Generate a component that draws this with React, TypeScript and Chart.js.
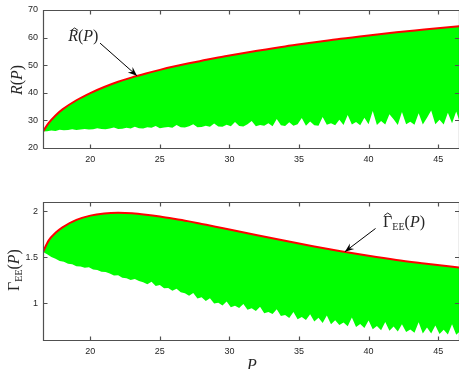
import React, { useEffect, useRef } from "react";
import { Chart, registerables } from "chart.js";
Chart.register(...registerables);

// ---------- data ----------
const P_MIN = 16.6;
const P_MAX = 46.5;
const P_TICKS = [20, 25, 30, 35, 40, 45];

// envelope R^(P)
const P_R_HAT = [16.6, 17.0, 17.5, 18, 19, 20, 21, 22, 23, 24, 25, 26, 27, 28, 29, 30, 32, 34, 36, 38, 40, 42, 44, 46.6];
const R_HAT = [26.0, 29.0, 31.8, 34.0, 37.3, 39.9, 42.1, 44.0, 45.6, 47.0, 48.3, 49.5, 50.6, 51.6, 52.6, 53.5, 55.2, 56.8, 58.2, 59.6, 60.8, 61.9, 62.9, 64.2];

// envelope Gamma^_EE(P)
const P_G_HAT = [16.6, 17.0, 17.5, 18, 19, 20, 21, 22, 23, 24, 25, 26, 27, 28, 29, 30, 32, 34, 36, 38, 40, 42, 44, 46.6];
const G_HAT = [1.557, 1.68, 1.765, 1.825, 1.905, 1.952, 1.975, 1.982, 1.977, 1.962, 1.942, 1.918, 1.892, 1.862, 1.832, 1.8, 1.738, 1.678, 1.62, 1.565, 1.515, 1.47, 1.432, 1.385];

// sampling grid of the scattered realisations (lower edge of the green band)
const LOW_P_START = 16.6;
const LOW_P_STEP = 0.3;
const R_LOW = [
  26.0, 26.1, 26.3, 26.2, 26.6, 26.4, 26.5, 26.8, 26.5, 26.7,
  26.9, 26.7, 26.8, 27.2, 26.9, 26.8, 27.1, 27.4, 26.9, 27.0,
  27.3, 27.1, 27.7, 27.2, 27.1, 27.5, 27.3, 28.0, 27.2, 27.4,
  27.6, 27.3, 28.3, 27.5, 27.4, 27.9, 28.6, 27.5, 27.6, 28.1,
  27.7, 28.9, 27.8, 27.7, 28.4, 27.9, 29.4, 28.0, 27.8, 28.6,
  29.8, 27.9, 28.3, 28.1, 29.0, 27.9, 30.5, 28.2, 28.0, 29.3,
  28.1, 28.6, 30.9, 28.1, 29.6, 28.2, 28.1, 31.2, 28.4, 29.0,
  28.2, 30.2, 28.3, 32.0, 28.5, 29.4, 28.2, 31.0, 28.6, 33.4,
  28.3, 29.8, 28.5, 32.2, 30.4, 28.3, 33.0, 28.6, 29.5, 28.4,
  32.6, 28.5, 31.0, 33.6, 28.6, 30.2, 28.5, 32.8, 29.0, 33.2,
  28.8,
];
const G_LOW = [
  1.557, 1.532, 1.503, 1.484, 1.458, 1.45, 1.428, 1.424, 1.402, 1.399,
  1.384, 1.39, 1.366, 1.362, 1.341, 1.338, 1.322, 1.301, 1.305, 1.276,
  1.272, 1.253, 1.262, 1.24, 1.229, 1.206, 1.232, 1.186, 1.197, 1.162,
  1.165, 1.135, 1.158, 1.12, 1.108, 1.08, 1.112, 1.052, 1.066, 1.025,
  1.055, 0.998, 1.004, 0.976, 1.018, 0.955, 0.972, 0.948, 0.99, 0.928,
  0.945, 0.914, 0.962, 0.892, 0.905, 0.882, 0.935, 0.86, 0.872, 0.84,
  0.905, 0.826, 0.85, 0.818, 0.88, 0.8, 0.842, 0.785, 0.865, 0.772,
  0.815, 0.762, 0.79, 0.75, 0.845, 0.742, 0.775, 0.731, 0.812, 0.718,
  0.752, 0.705, 0.795, 0.7, 0.748, 0.692, 0.77, 0.688, 0.715, 0.68,
  0.792, 0.672, 0.735, 0.67, 0.758, 0.664, 0.712, 0.66, 0.77, 0.656,
  0.7,
];

// axis ranges / ticks
const R_MIN = 20, R_MAX = 70;
const R_TICKS = [20, 30, 40, 50, 60, 70];
const G_MIN = 0.6, G_MAX = 2.1;
const G_TICKS = [1, 1.5, 2];

// annotation anchors (data coordinates)
const R_ANN = { text: [19.5, 58.6], tail: [20.7, 58.0], tip: [23.35, 46.2] };
const G_ANN = { text: [42.55, 1.828], tail: [40.5, 1.812], tip: [38.3, 1.56] };

// ---------- styling ----------
const GREEN = "#00ff00";
const RED = "#ff0000";
const AXIS = "#505050";
const TXT = "#262626";
const SANS = '"Liberation Sans", Arial, sans-serif';
const UP = '16px "Liberation Serif", serif';
const IT = 'italic 16px "Liberation Serif", serif';
const SUB = '10px "Liberation Serif", serif';

type Run = { t: string; f: string; dy?: number };

function drawRuns(ctx: CanvasRenderingContext2D, runs: Run[], cx: number, by: number) {
  let w = 0;
  for (const r of runs) { ctx.font = r.f; w += ctx.measureText(r.t).width; }
  let x = cx - w / 2;
  const pos: { x: number; w: number }[] = [];
  for (const r of runs) {
    ctx.font = r.f;
    const rw = ctx.measureText(r.t).width;
    ctx.fillText(r.t, x, by + (r.dy || 0));
    pos.push({ x, w: rw });
    x += rw;
  }
  return pos;
}

function hat(ctx: CanvasRenderingContext2D, cx: number, y: number) {
  ctx.save();
  ctx.strokeStyle = TXT;
  ctx.lineWidth = 1;
  ctx.beginPath();
  ctx.moveTo(cx - 3.5, y + 2.5);
  ctx.lineTo(cx, y);
  ctx.lineTo(cx + 3.5, y + 2.5);
  ctx.stroke();
  ctx.restore();
}

function arrow(ctx: CanvasRenderingContext2D, x1: number, y1: number, x2: number, y2: number) {
  ctx.save();
  ctx.strokeStyle = "#000";
  ctx.fillStyle = "#000";
  ctx.lineWidth = 1;
  ctx.beginPath();
  ctx.moveTo(x1, y1);
  ctx.lineTo(x2, y2);
  ctx.stroke();
  const a = Math.atan2(y2 - y1, x2 - x1);
  const len = 9, hw = 3.6;
  const c = Math.cos(a), s = Math.sin(a);
  ctx.beginPath();
  ctx.moveTo(x2, y2);
  ctx.lineTo(x2 - len * c + hw * s, y2 - len * s - hw * c);
  ctx.lineTo(x2 - len * 0.65 * c, y2 - len * 0.65 * s);
  ctx.lineTo(x2 - len * c - hw * s, y2 - len * s + hw * c);
  ctx.closePath();
  ctx.fill();
  ctx.restore();
}

function drawFrame(chart: any) {
  const { ctx, chartArea: a, scales } = chart;
  const xs = scales.x, ys = scales.y;
  ctx.save();
  ctx.strokeStyle = AXIS;
  ctx.lineWidth = 1.2;
  const L = Math.round(a.left) + 0.5;
  const R = a.right + 0.5;
  const T = Math.round(a.top) + 0.5;
  const B = Math.round(a.bottom) + 0.5;
  ctx.beginPath();
  ctx.rect(L, T, R - L, B - T);
  ctx.stroke();
  const tl = 4;
  ctx.beginPath();
  xs.ticks.forEach((t: any) => {
    const px = Math.round(xs.getPixelForValue(t.value)) + 0.5;
    ctx.moveTo(px, B); ctx.lineTo(px, B - tl);
    ctx.moveTo(px, T); ctx.lineTo(px, T + tl);
  });
  ys.ticks.forEach((t: any) => {
    const py = Math.round(ys.getPixelForValue(t.value)) + 0.5;
    ctx.moveTo(L, py); ctx.lineTo(L + tl, py);
    ctx.moveTo(a.right, py); ctx.lineTo(a.right - tl, py);
  });
  ctx.stroke();
  ctx.restore();
}

function lowPoints(vals: number[]) {
  return vals.map((v, i) => ({ x: +(LOW_P_START + i * LOW_P_STEP).toFixed(2), y: v }));
}

function makeConfig(kind: "R" | "G"): any {
  const isR = kind === "R";
  const hatP = isR ? P_R_HAT : P_G_HAT;
  const hatV = isR ? R_HAT : G_HAT;
  const low = isR ? R_LOW : G_LOW;
  const yTicks = isR ? R_TICKS : G_TICKS;

  const labelPlugin = {
    id: "labels" + kind,
    afterDraw(chart: any) {
      drawFrame(chart);
      const { ctx, chartArea: a, scales } = chart;
      const xs = scales.x, ys = scales.y;
      ctx.save();
      ctx.fillStyle = TXT;
      ctx.textBaseline = "alphabetic";
      if (isR) {
        ctx.save();
        ctx.translate(22, (a.top + a.bottom) / 2 + 1);
        ctx.rotate(-Math.PI / 2);
        drawRuns(ctx, [{ t: "R", f: IT }, { t: "(", f: UP }, { t: "P", f: IT }, { t: ")", f: UP }], 0, 0);
        ctx.restore();
        const tx = xs.getPixelForValue(R_ANN.text[0]);
        const ty = ys.getPixelForValue(R_ANN.text[1]);
        const pos = drawRuns(ctx, [{ t: "R", f: IT }, { t: "(", f: UP }, { t: "P", f: IT }, { t: ")", f: UP }], tx, ty);
        hat(ctx, pos[0].x + pos[0].w / 2 + 1.5, ty - 13.5);
        arrow(ctx, xs.getPixelForValue(R_ANN.tail[0]), ys.getPixelForValue(R_ANN.tail[1]),
          xs.getPixelForValue(R_ANN.tip[0]), ys.getPixelForValue(R_ANN.tip[1]));
      } else {
        ctx.save();
        ctx.translate(18.5, (a.top + a.bottom) / 2 - 1);
        ctx.rotate(-Math.PI / 2);
        drawRuns(ctx, [{ t: "Γ", f: UP }, { t: "EE", f: SUB, dy: 3 }, { t: "(", f: UP }, { t: "P", f: IT }, { t: ")", f: UP }], 0, 0);
        ctx.restore();
        const tx = xs.getPixelForValue(G_ANN.text[0]);
        const ty = ys.getPixelForValue(G_ANN.text[1]);
        const pos = drawRuns(ctx, [{ t: "Γ", f: UP }, { t: "EE", f: SUB, dy: 3 }, { t: "(", f: UP }, { t: "P", f: IT }, { t: ")", f: UP }], tx, ty);
        hat(ctx, pos[0].x + pos[0].w / 2, ty - 14);
        arrow(ctx, xs.getPixelForValue(G_ANN.tail[0]), ys.getPixelForValue(G_ANN.tail[1]),
          xs.getPixelForValue(G_ANN.tip[0]), ys.getPixelForValue(G_ANN.tip[1]));
        ctx.font = IT;
        ctx.textAlign = "center";
        ctx.fillText("P", (a.left + a.right) / 2 + 1, chart.height + 1);
      }
      ctx.restore();
    },
  };

  const tickFont = { family: SANS, size: 9 };
  return {
    type: "line",
    data: {
      datasets: [
        {
          label: isR ? "R hat" : "Gamma hat",
          data: hatP.map((p, i) => ({ x: p, y: hatV[i] })),
          borderColor: RED,
          borderWidth: 2,
          pointRadius: 0,
          cubicInterpolationMode: "monotone",
          fill: false,
        },
        {
          label: isR ? "R" : "Gamma",
          data: lowPoints(low),
          borderWidth: 0,
          borderColor: GREEN,
          backgroundColor: GREEN,
          pointRadius: 0,
          tension: 0,
          fill: "-1",
        },
      ],
    },
    options: {
      responsive: false,
      animation: false,
      devicePixelRatio: 1,
      events: [],
      layout: { padding: { top: isR ? 10 : 17, left: 0, right: 0, bottom: 0 } },
      plugins: { legend: { display: false }, tooltip: { enabled: false }, title: { display: false } },
      scales: {
        x: {
          type: "linear",
          min: P_MIN,
          max: P_MAX,
          grid: { display: false, drawTicks: false },
          border: { display: false },
          ticks: { padding: 6, font: tickFont, color: TXT, maxRotation: 0, autoSkip: false, callback: (v: any) => String(v) },
          afterBuildTicks: (s: any) => { s.ticks = P_TICKS.map((v) => ({ value: v })); },
          afterFit: (s: any) => { s.height = isR ? 37 : 29; s.paddingLeft = 0; s.paddingRight = 0; },
        },
        y: {
          type: "linear",
          min: isR ? R_MIN : G_MIN,
          max: isR ? R_MAX : G_MAX,
          grid: { display: false, drawTicks: false },
          border: { display: false },
          ticks: { padding: 5, font: tickFont, color: TXT, autoSkip: false, callback: (v: any) => String(v) },
          afterBuildTicks: (s: any) => { s.ticks = yTicks.map((v) => ({ value: v })); },
          afterFit: (s: any) => { s.width = 43; s.paddingTop = 0; s.paddingBottom = 0; },
        },
      },
    },
    plugins: [labelPlugin],
  };
}

export default function App() {
  const topRef = useRef<HTMLCanvasElement>(null);
  const botRef = useRef<HTMLCanvasElement>(null);
  useEffect(() => {
    document.body.style.margin = "0";
    const c1 = new Chart(topRef.current as HTMLCanvasElement, makeConfig("R"));
    const c2 = new Chart(botRef.current as HTMLCanvasElement, makeConfig("G"));
    return () => { c1.destroy(); c2.destroy(); };
  }, []);
  return (
    <div style={{ position: "relative", width: 459, height: 369, background: "#fff", overflow: "hidden" }}>
      <canvas ref={topRef} width={459} height={185} style={{ position: "absolute", left: 0, top: 0, width: 459, height: 185 }} />
      <canvas ref={botRef} width={459} height={184} style={{ position: "absolute", left: 0, top: 185, width: 459, height: 184 }} />
    </div>
  );
}
